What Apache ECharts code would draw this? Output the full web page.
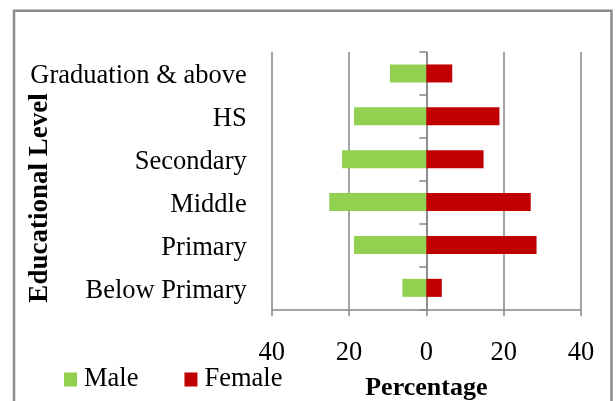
<!DOCTYPE html>
<html>
<head>
<meta charset="utf-8">
<script src="https://cdn.jsdelivr.net/npm/echarts@6/dist/echarts.min.js"></script>
<style>html,body{margin:0;padding:0;background:#fff}#c{width:616px;height:401px}</style>
</head>
<body>
<div id="c"></div>
<script>
const categories = ['Graduation & above', 'HS', 'Secondary', 'Middle', 'Primary', 'Below Primary'];
const maleValues = [9.4, 18.7, 21.8, 25.1, 18.7, 6.2];
const femaleValues = [6.7, 18.9, 14.8, 27.0, 28.5, 4.0];
const xTicks = [-40, -20, 0, 20, 40];
const seriesNames = ['Male', 'Female'];
const xTitle = 'Percentage';
const yTitle = 'Educational Level';

const FONT = 'Liberation Serif';
const GRAY = '#868686';
const chart = echarts.init(document.getElementById('c'), null, {renderer: 'canvas'});
chart.setOption({
  animation: false,
  backgroundColor: '#fff',
  grid: {left: 271.7, right: 35, top: 52, bottom: 91.7, containLabel: false, outerBoundsMode: 'none'},
  xAxis: {
    type: 'value', min: xTicks[0], max: xTicks[xTicks.length - 1], interval: 20,
    axisLine: {show: true, onZero: false, lineStyle: {color: GRAY, width: 1.5}},
    axisTick: {show: true, length: 7, lineStyle: {color: GRAY, width: 1.5}},
    splitLine: {show: true, lineStyle: {color: GRAY, width: 1.5}},
    axisLabel: {color: '#000', fontFamily: FONT, fontSize: 26.5, margin: 30,
      formatter: v => String(Math.abs(v))},
    name: xTitle, nameLocation: 'middle', nameGap: 66,
    nameTextStyle: {color: '#000', fontFamily: FONT, fontSize: 26, fontWeight: 'bold'}
  },
  yAxis: [{
    type: 'category', data: categories, inverse: true, position: 'left',
    axisLine: {show: false, onZero: false}, axisTick: {show: false},
    axisLabel: {color: '#000', fontFamily: FONT, fontSize: 26.5, margin: 25, interval: 0,
      hideOverlap: false, verticalAlign: 'top', lineHeight: 6}
  }, {
    type: 'category', data: categories, inverse: true, position: 'left',
    axisLine: {show: true, onZero: true, lineStyle: {color: GRAY, width: 1.5}},
    axisTick: {show: true, length: 7, lineStyle: {color: GRAY, width: 1.5}},
    axisLabel: {show: false}
  }],
  legend: {
    data: seriesNames, left: 64, top: 364, padding: 0, itemGap: 46,
    itemWidth: 13, itemHeight: 14, icon: 'rect',
    textStyle: {color: '#000', fontFamily: FONT, fontSize: 26.5, lineHeight: 28, padding: [3, 0, 0, 2]}
  },
  graphic: [
    {type: 'rect', shape: {x: 14, y: 10.7, width: 597.5, height: 420}, style: {fill: 'none', stroke: '#8c8c8c', lineWidth: 2.5}, silent: true},
    {type: 'text', x: 40, y: 198, rotation: Math.PI / 2,
      style: {text: yTitle, fill: '#000', font: 'bold 27px "Liberation Serif"', textAlign: 'center', textVerticalAlign: 'middle'}}
  ],
  series: [
    {name: seriesNames[0], type: 'bar', stack: 'total', barWidth: 18,
      itemStyle: {color: '#92d050'}, data: maleValues.map(v => -v)},
    {name: seriesNames[1], type: 'bar', stack: 'total', barWidth: 18,
      itemStyle: {color: '#c00000'}, data: femaleValues}
  ]
});
</script>
</body>
</html>
